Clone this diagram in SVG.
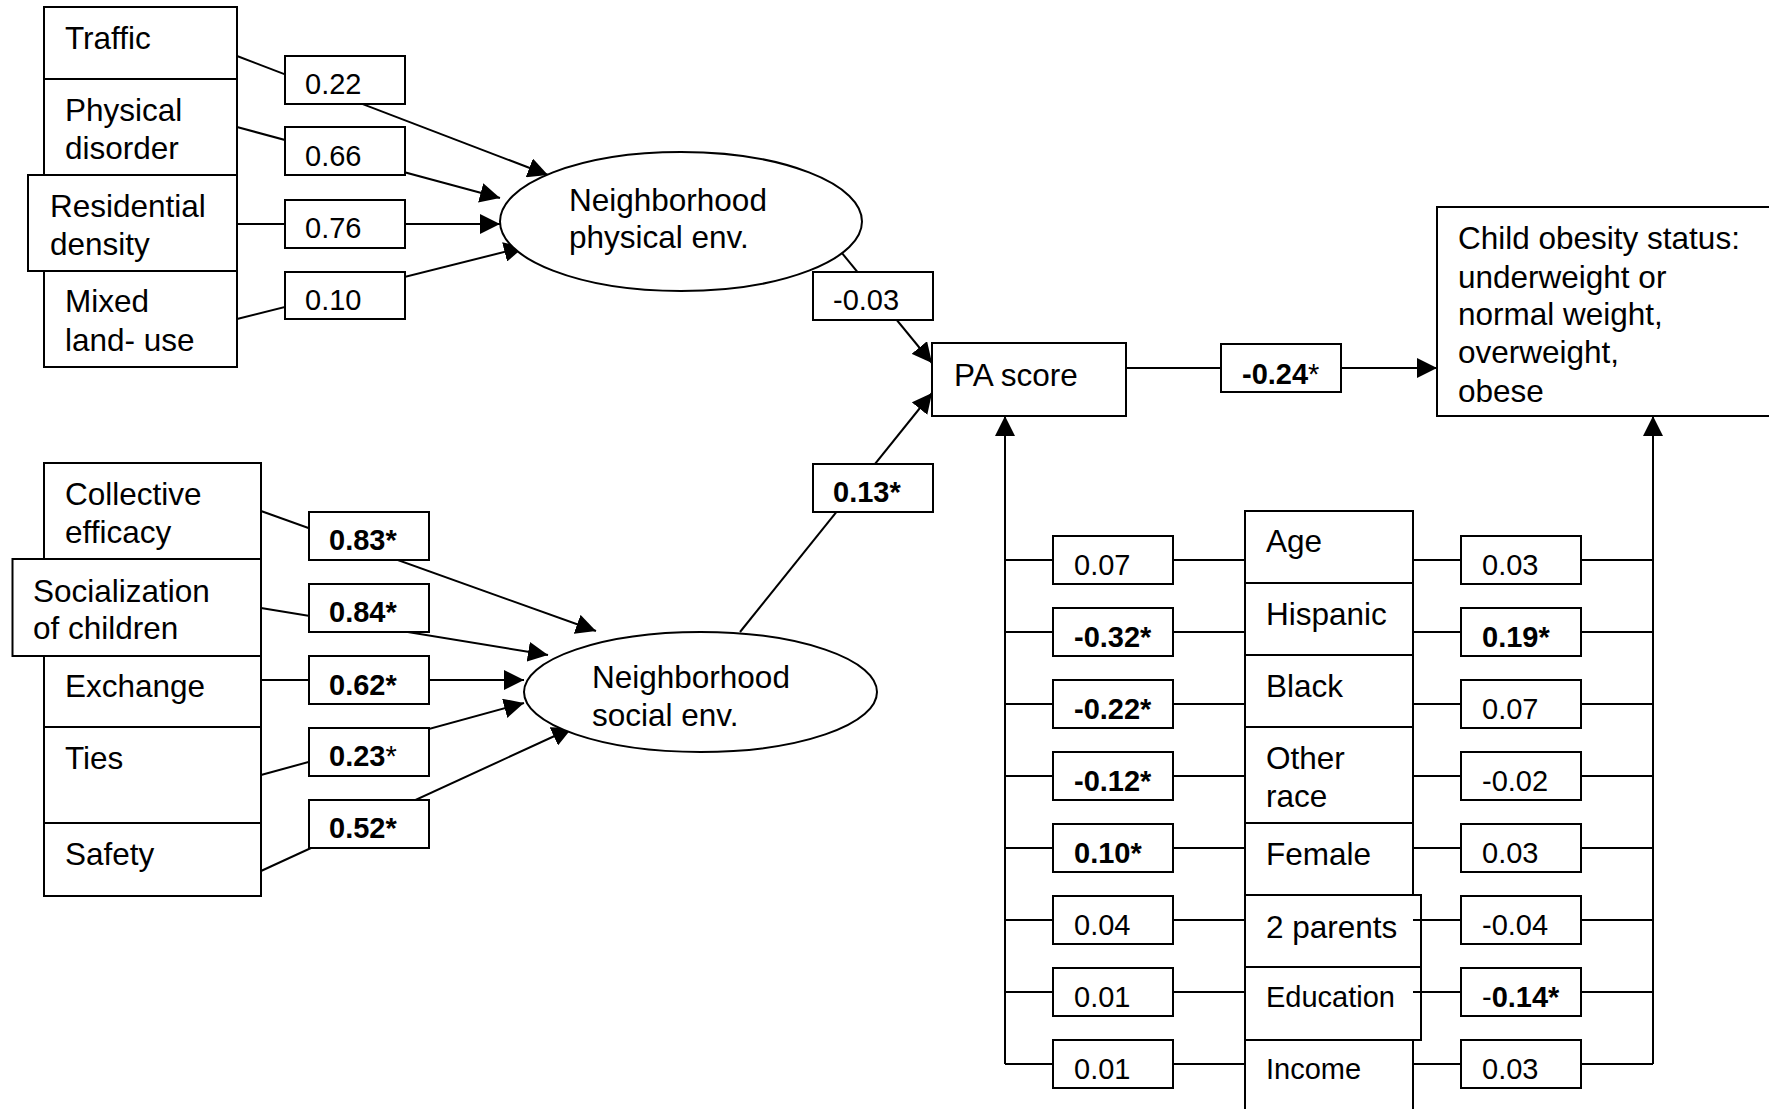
<svg xmlns="http://www.w3.org/2000/svg" width="1769" height="1109" viewBox="0 0 1769 1109">
<defs>
<marker id="arr" viewBox="0 0 20 20" refX="20" refY="10" markerWidth="20" markerHeight="20" markerUnits="userSpaceOnUse" orient="auto">
<path d="M0,0 L20,10 L0,20 z" fill="#000"/>
</marker>
<style>
.box{fill:#fff;stroke:#000;stroke-width:2}
.ln{fill:none;stroke:#000;stroke-width:2}
.ar{fill:none;stroke:#000;stroke-width:2;marker-end:url(#arr)}
.t{font-family:"Liberation Sans",Arial,sans-serif;font-size:31.5px;fill:#000}
.c{font-family:"Liberation Sans",Arial,sans-serif;font-size:29px;fill:#000}
.s{font-size:29px}
.b{font-weight:bold}
.n{font-weight:normal}
</style>
</defs>
<rect width="1769" height="1109" fill="#fff"/>

<g id="connectors">
<line class="ar" x1="237" y1="56" x2="548" y2="175"/>
<line class="ar" x1="237" y1="127" x2="500" y2="198"/>
<line class="ar" x1="237" y1="224" x2="500" y2="224"/>
<line class="ar" x1="237" y1="319" x2="524" y2="247"/>
<line class="ar" x1="261" y1="511" x2="596" y2="631"/>
<line class="ar" x1="261" y1="608" x2="548" y2="655"/>
<line class="ar" x1="261" y1="680" x2="524" y2="680"/>
<line class="ar" x1="261" y1="775" x2="524" y2="703"/>
<line class="ar" x1="261" y1="871" x2="572" y2="728"/>
<line class="ar" x1="837" y1="247" x2="932" y2="363"/>
<line class="ar" x1="740" y1="632" x2="932" y2="393"/>
<line class="ar" x1="1126" y1="368" x2="1437" y2="368"/>
<line class="ar" x1="1005" y1="1064" x2="1005" y2="416"/>
<line class="ar" x1="1653" y1="1064" x2="1653" y2="416"/>
<path class="ln" d="M1005,560H1245M1005,632H1245M1005,704H1245M1005,776H1245M1005,848H1245M1005,920H1245M1005,992H1245M1005,1064H1245"/>
<path class="ln" d="M1413,560H1653M1413,632H1653M1413,704H1653M1413,776H1653M1413,848H1653M1413,920H1653M1413,992H1653M1413,1064H1653"/>
</g>

<g id="traffic"><rect class="box" x="44" y="7" width="193" height="72"/><text class="t" x="65" y="49">Traffic</text></g>
<g id="physical-disorder"><rect class="box" x="44" y="79" width="193" height="96"/><text class="t" x="65" y="121">Physical</text><text class="t" x="65" y="159">disorder</text></g>
<g id="mixed-land-use"><rect class="box" x="44" y="271" width="193" height="96"/><text class="t" x="65" y="312">Mixed</text><text class="t" x="65" y="351">land- use</text></g>
<g id="residential-density"><rect class="box" x="28" y="175" width="209" height="96"/><text class="t" x="50" y="217">Residential</text><text class="t" x="50" y="255">density</text></g>

<g id="collective-efficacy"><rect class="box" x="44" y="463" width="217" height="96"/><text class="t" x="65" y="505">Collective</text><text class="t" x="65" y="543">efficacy</text></g>
<g id="exchange"><rect class="box" x="44" y="656" width="217" height="71"/><text class="t" x="65" y="697">Exchange</text></g>
<g id="ties"><rect class="box" x="44" y="727" width="217" height="96"/><text class="t" x="65" y="769">Ties</text></g>
<g id="safety"><rect class="box" x="44" y="823" width="217" height="73"/><text class="t" x="65" y="865">Safety</text></g>
<g id="socialization"><rect class="box" x="12.5" y="559" width="248.5" height="97"/><text class="t" x="33" y="602">Socialization</text><text class="t" x="33" y="639">of children</text></g>

<g id="coef-phys">
<rect class="box" x="285" y="56" width="120" height="48"/><text class="c" x="305" y="94">0.22</text>
<rect class="box" x="285" y="127" width="120" height="48"/><text class="c" x="305" y="166">0.66</text>
<rect class="box" x="285" y="200" width="120" height="48"/><text class="c" x="305" y="238">0.76</text>
<rect class="box" x="285" y="272" width="120" height="47"/><text class="c" x="305" y="310">0.10</text>
</g>
<g id="coef-social">
<rect class="box" x="309" y="512" width="120" height="48"/><text class="c b" x="329" y="550">0.83*</text>
<rect class="box" x="309" y="584" width="120" height="48"/><text class="c b" x="329" y="622">0.84*</text>
<rect class="box" x="309" y="656" width="120" height="48"/><text class="c b" x="329" y="695">0.62*</text>
<rect class="box" x="309" y="728" width="120" height="48"/><text class="c b" x="329" y="766">0.23<tspan class="n">*</tspan></text>
<rect class="box" x="309" y="800" width="120" height="48"/><text class="c b" x="329" y="838">0.52*</text>
</g>

<g id="neighborhood-physical"><ellipse class="box" cx="681" cy="221.5" rx="181" ry="69.5"/><text class="t" x="569" y="211">Neighborhood</text><text class="t" x="569" y="248">physical env.</text></g>
<g id="neighborhood-social"><ellipse class="box" cx="700.5" cy="692" rx="176.5" ry="60"/><text class="t" x="592" y="688">Neighborhood</text><text class="t" x="592" y="726">social env.</text></g>

<g id="coef-pa">
<rect class="box" x="813" y="272" width="120" height="48"/><text class="c" x="833" y="310">-0.03</text>
<rect class="box" x="813" y="464" width="120" height="48"/><text class="c b" x="833" y="502">0.13*</text>
<rect class="box" x="1221" y="344" width="120" height="48"/><text class="c b" x="1242" y="384">-0.24<tspan class="n">*</tspan></text>
</g>

<g id="pa-score"><rect class="box" x="932" y="343" width="194" height="73"/><text class="t" x="954" y="386">PA score</text></g>
<g id="child-obesity"><rect class="box" x="1437" y="207" width="340" height="209"/>
<text class="t" x="1458" y="249">Child obesity status:</text>
<text class="t" x="1458" y="288">underweight or</text>
<text class="t" x="1458" y="325">normal weight,</text>
<text class="t" x="1458" y="363">overweight,</text>
<text class="t" x="1458" y="402">obese</text></g>

<g id="age"><rect class="box" x="1245" y="511" width="168" height="72"/><text class="t" x="1266" y="552">Age</text></g>
<g id="hispanic"><rect class="box" x="1245" y="583" width="168" height="72"/><text class="t" x="1266" y="625">Hispanic</text></g>
<g id="black"><rect class="box" x="1245" y="655" width="168" height="72"/><text class="t" x="1266" y="697">Black</text></g>
<g id="other-race"><rect class="box" x="1245" y="727" width="168" height="96"/><text class="t" x="1266" y="769">Other</text><text class="t" x="1266" y="807">race</text></g>
<g id="female"><rect class="box" x="1245" y="823" width="168" height="72"/><text class="t" x="1266" y="865">Female</text></g>
<g id="income"><rect class="box" x="1245" y="1040" width="168" height="80"/><text class="t s" x="1266" y="1079">Income</text></g>
<g id="two-parents"><rect class="box" x="1245" y="895" width="176" height="72"/><text class="t" x="1266" y="938">2 parents</text></g>
<g id="education"><rect class="box" x="1245" y="967" width="176" height="73"/><text class="t s" x="1266" y="1007">Education</text></g>
<line class="ln" x1="1413" y1="920" x2="1461" y2="920"/>
<line class="ln" x1="1413" y1="992" x2="1461" y2="992"/>

<g id="coef-covariates-pa">
<rect class="box" x="1053" y="536" width="120" height="48"/><text class="c" x="1074" y="574.5">0.07</text>
<rect class="box" x="1053" y="608" width="120" height="48"/><text class="c b" x="1074" y="646.5">-0.32*</text>
<rect class="box" x="1053" y="680" width="120" height="48"/><text class="c b" x="1074" y="718.5">-0.22*</text>
<rect class="box" x="1053" y="752" width="120" height="48"/><text class="c b" x="1074" y="790.5">-0.12*</text>
<rect class="box" x="1053" y="824" width="120" height="48"/><text class="c b" x="1074" y="862.5">0.10*</text>
<rect class="box" x="1053" y="896" width="120" height="48"/><text class="c" x="1074" y="934.5">0.04</text>
<rect class="box" x="1053" y="968" width="120" height="48"/><text class="c" x="1074" y="1006.5">0.01</text>
<rect class="box" x="1053" y="1040" width="120" height="48"/><text class="c" x="1074" y="1078.5">0.01</text>
</g>
<g id="coef-covariates-obesity">
<rect class="box" x="1461" y="536" width="120" height="48"/><text class="c" x="1482" y="574.5">0.03</text>
<rect class="box" x="1461" y="608" width="120" height="48"/><text class="c b" x="1482" y="646.5">0.19*</text>
<rect class="box" x="1461" y="680" width="120" height="48"/><text class="c" x="1482" y="718.5">0.07</text>
<rect class="box" x="1461" y="752" width="120" height="48"/><text class="c" x="1482" y="790.5">-0.02</text>
<rect class="box" x="1461" y="824" width="120" height="48"/><text class="c" x="1482" y="862.5">0.03</text>
<rect class="box" x="1461" y="896" width="120" height="48"/><text class="c" x="1482" y="934.5">-0.04</text>
<rect class="box" x="1461" y="968" width="120" height="48"/><text class="c" x="1482" y="1006.5">-<tspan class="b">0.14*</tspan></text>
<rect class="box" x="1461" y="1040" width="120" height="48"/><text class="c" x="1482" y="1078.5">0.03</text>
</g>
</svg>
